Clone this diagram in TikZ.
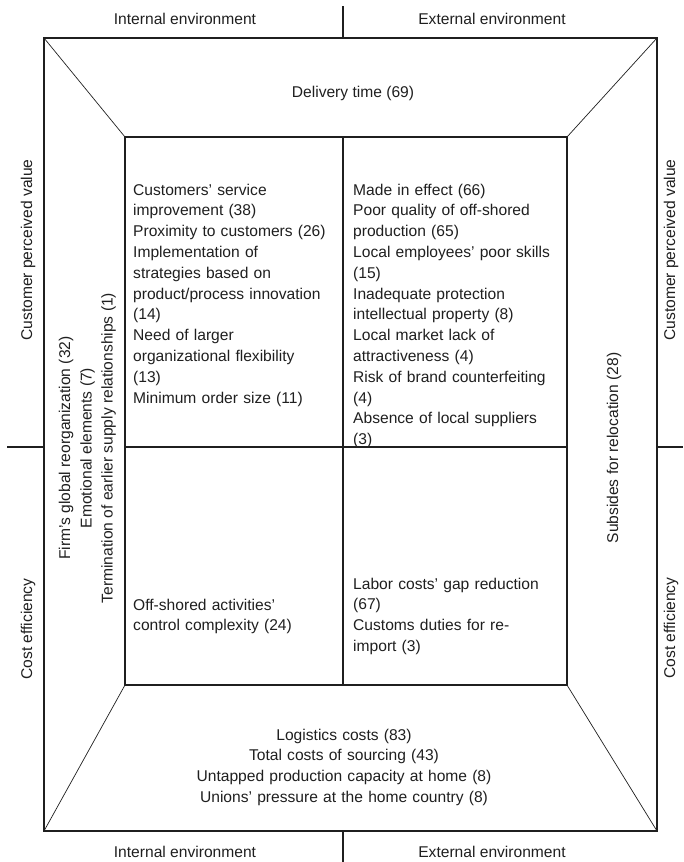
\documentclass[tikz,border=0pt]{standalone}
\usepackage{fontspec}
\setmainfont{Liberation Sans}
\begin{document}
\begin{tikzpicture}[x=1pt,y=-1pt,
  frame/.style={line width=1.2pt, draw=black!88},
  diag/.style={line width=0.7pt, draw=black!88},
  lbl/.style={inner sep=0pt, text=black!88, font=\fontsize{15.6}{20.8}\selectfont},
  blk/.style={lbl, text width=240pt, align=left, anchor=base west},
  rot/.style={lbl, rotate=90, anchor=base}]
\useasboundingbox (0,0) rectangle (683,862);
% corners
\coordinate (O1) at (44,38);  \coordinate (O2) at (657,38);
\coordinate (O3) at (657,831); \coordinate (O4) at (44,831);
\coordinate (I1) at (125,137); \coordinate (I2) at (567,137);
\coordinate (I3) at (567,685); \coordinate (I4) at (125,685);
\coordinate (IT) at (343,137); \coordinate (IB) at (343,685);
\coordinate (IL) at (125,447); \coordinate (IR) at (567,447);
\coordinate (OT) at (343,38);  \coordinate (OB) at (343,831);
\coordinate (OL) at (44,447);  \coordinate (OR) at (657,447);
\coordinate (ET) at (343,6);   \coordinate (EB) at (343,862);
\coordinate (EL) at (7,447);   \coordinate (ER) at (683,447);
% frames
\draw[frame] (O1) rectangle (O3);
\draw[frame] (I1) rectangle (I3);
\draw[frame] (IT) -- (IB);
\draw[frame] (IL) -- (IR);
\draw[frame] (ET) -- (OT);
\draw[frame] (OB) -- (EB);
\draw[frame] (EL) -- (OL);
\draw[frame] (OR) -- (ER);
\draw[diag] (O1) -- (I1);
\draw[diag] (O2) -- (I2);
\draw[diag] (O3) -- (I3);
\draw[diag] (O4) -- (I4);
% outside labels
\node[lbl, anchor=base] (tin) at (185,24) {Internal environment};
\node[lbl, anchor=base] (tex) at (492,24) {External environment};
\node[lbl, anchor=base] (bin) at (185,857) {Internal environment};
\node[lbl, anchor=base] (bex) at (492,857) {External environment};
\node[rot] (lcpv) at (32,250) {Customer perceived value};
\node[rot] (lce) at (32,629) {Cost efficiency};
\node[rot] (rcpv) at (675,250) {Customer perceived value};
\node[rot] (rce) at (675,628) {Cost efficiency};
% trapezoid texts
\node[lbl, anchor=base] (deliv) at (353,97) {Delivery time (69)};
\node[rot] (firm) at (70,448) {Firm’s global reorganization (32)};
\node[rot] (emo) at (91.5,448) {Emotional elements (7)};
\node[rot] (term) at (112.7,448) {Termination of earlier supply relationships (1)};
\node[rot] (subs) at (618,448) {Subsides for relocation (28)};
\node[lbl, text width=320pt, align=center, anchor=base] (costs) at (344,740)
  {Logistics costs (83)\\Total costs of sourcing (43)\\Untapped production capacity at home (8)\\Unions’ pressure at the home country (8)};
% quadrant texts
\node[blk] (ul) at (133,195) {Customers’ service\\improvement (38)\\Proximity to customers (26)\\Implementation of\\strategies based on\\product/process innovation\\(14)\\Need of larger\\organizational flexibility\\(13)\\Minimum order size (11)};
\node[blk] (ur) at (353,195) {Made in effect (66)\\Poor quality of off-shored\\production (65)\\Local employees’ poor skills\\(15)\\Inadequate protection\\intellectual property (8)\\Local market lack of\\attractiveness (4)\\Risk of brand counterfeiting\\(4)\\Absence of local suppliers\\(3)};
\node[blk] (ll) at (133,610) {Off-shored activities’\\control complexity (24)};
\node[blk] (lr) at (353,589) {Labor costs’ gap reduction\\(67)\\Customs duties for re-\\import (3)};
\end{tikzpicture}
\end{document}
